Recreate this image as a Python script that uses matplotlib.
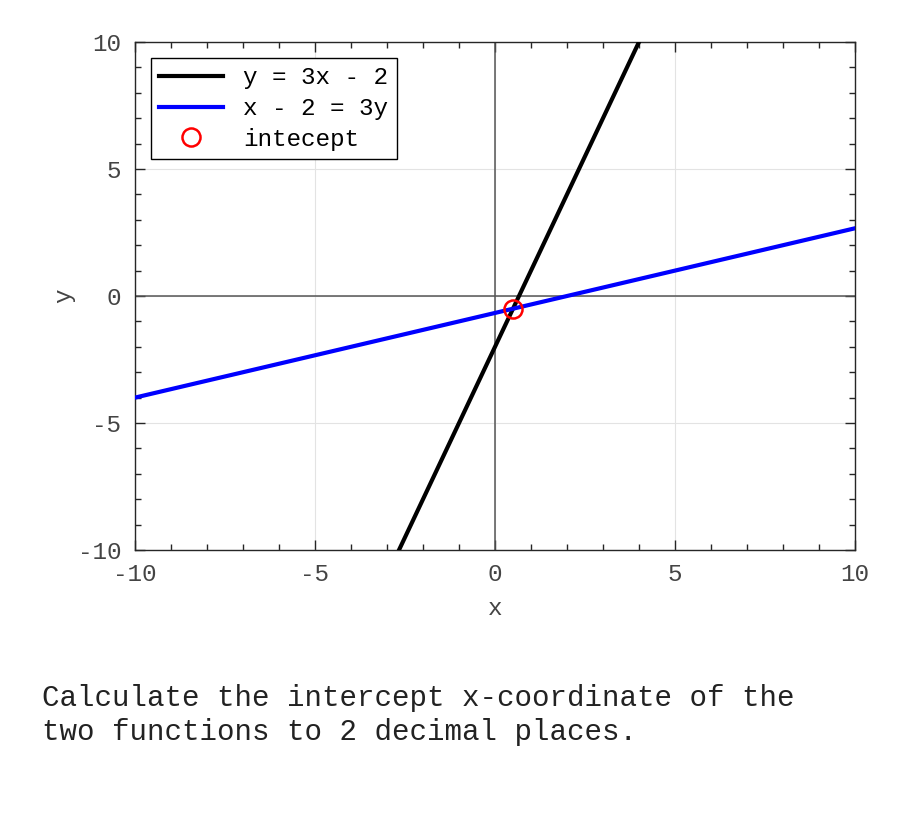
import numpy as np
import matplotlib
matplotlib.use("Agg")
import matplotlib.pyplot as plt
from matplotlib.ticker import MultipleLocator

plt.rcParams['font.family'] = ['Liberation Mono', 'DejaVu Sans Mono']
plt.rcParams['axes.unicode_minus'] = False

x_range = [-10, 10]
y_range = [-10, 10]
major_ticks = [-10, -5, 0, 5, 10]

# y = 3x - 2
line1_slope, line1_icpt = 3.0, -2.0
# x - 2 = 3y  ->  y = x/3 - 2/3
line2_slope, line2_icpt = 1.0 / 3.0, -2.0 / 3.0

labels = ["y = 3x - 2", "x - 2 = 3y", "intecept"]
question = "Calculate the intercept x-coordinate of the\ntwo functions to 2 decimal places."

xs = np.array(x_range, dtype=float)
ix = (line2_icpt - line1_icpt) / (line1_slope - line2_slope)
iy = line1_slope * ix + line1_icpt

fig = plt.figure(figsize=(9, 8.25), dpi=100)
ax = fig.add_axes([0.15, 0.3333, 0.8, 0.6158])

ax.axhline(0, color='#555555', lw=1.1, zorder=1)
ax.axvline(0, color='#555555', lw=1.1, zorder=1)

ax.plot(xs, line1_slope * xs + line1_icpt, color='black', lw=3, label=labels[0], zorder=3)
ax.plot(xs, line2_slope * xs + line2_icpt, color='#0000ff', lw=3, label=labels[1], zorder=3)
ax.plot([ix], [iy], 'o', mfc='none', mec='red', ms=13, mew=1.8, label=labels[2], zorder=4)

ax.set_xlim(x_range)
ax.set_ylim(y_range)
ax.set_xticks(major_ticks)
ax.set_yticks(major_ticks)
ax.xaxis.set_minor_locator(MultipleLocator(1))
ax.yaxis.set_minor_locator(MultipleLocator(1))
ax.grid(True, which='major', color='#e3e3e3', lw=0.8, zorder=0)
ax.set_axisbelow(True)

ax.tick_params(which='both', direction='in', top=True, right=True, colors='#262626',
               labelcolor='#444444', labelsize=17.5)
ax.tick_params(which='major', length=7, width=1)
ax.tick_params(which='minor', length=4, width=1)
ax.tick_params(axis='x', which='major', pad=9)
ax.tick_params(axis='y', which='major', pad=10)
for sp in ax.spines.values():
    sp.set_color('#262626')
    sp.set_linewidth(1)

ax.set_xlabel('x', fontsize=17.5, color='#444444', labelpad=8)
ax.set_ylabel('y', fontsize=17.5, color='#444444', labelpad=2)

leg = ax.legend(loc='upper left', fontsize=17.5, fancybox=False, framealpha=1,
                edgecolor='black', borderpad=0.35, handlelength=2.6,
                handletextpad=0.85, labelspacing=0.32, borderaxespad=0.65)
leg.get_frame().set_linewidth(1)

fig.text(0.047, 0.096, question, fontsize=21, color='#222222',
         ha='left', va='bottom', linespacing=1.25)

fig.savefig('out.png', dpi=100)
